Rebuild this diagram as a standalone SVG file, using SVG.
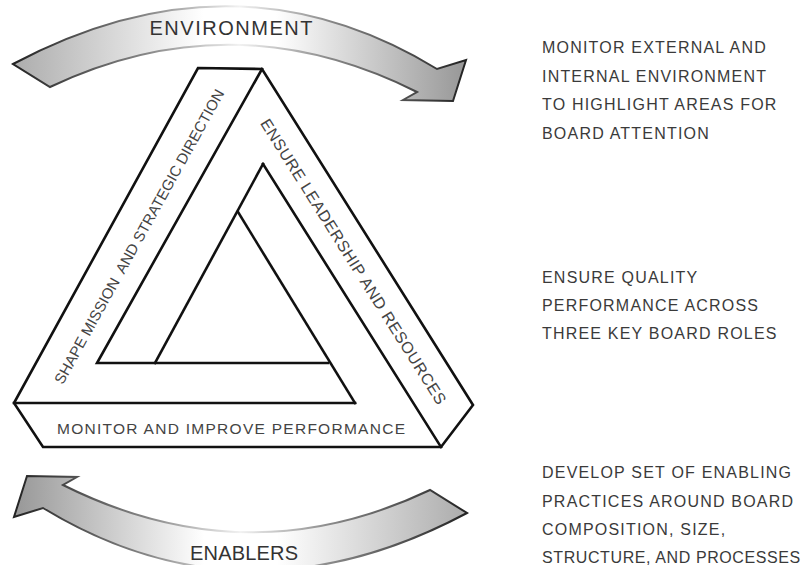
<svg xmlns="http://www.w3.org/2000/svg" width="804" height="565" viewBox="0 0 804 565">
  <defs>
    <linearGradient id="bandFill" x1="0" y1="0" x2="1" y2="0">
      <stop offset="0" stop-color="#acacac"/>
      <stop offset="0.42" stop-color="#ffffff"/>
      <stop offset="0.58" stop-color="#ffffff"/>
      <stop offset="1" stop-color="#979797"/>
    </linearGradient>
    <linearGradient id="bandStroke" x1="0" y1="0" x2="1" y2="0">
      <stop offset="0" stop-color="#222"/>
      <stop offset="0.3" stop-color="#888"/>
      <stop offset="0.5" stop-color="#f2f2f2"/>
      <stop offset="0.7" stop-color="#888"/>
      <stop offset="1" stop-color="#222"/>
    </linearGradient>
    <path id="curvedArrow" d="M 13,64 Q 235,-54 437,69 L 466,60 L 453,101 L 403,100 L 417,92 Q 233,0 50,87 Z"/>
  </defs>
  <style>
    .band { fill: url(#bandFill); stroke: url(#bandStroke); stroke-width: 2; stroke-linejoin: miter; }
    .edge { fill: none; stroke: #111; stroke-width: 2.6; stroke-linejoin: miter; stroke-linecap: square; }
    .label { font-family: "Liberation Sans", Arial, sans-serif; fill: #333; }
    .bar { font-family: "Liberation Sans", Arial, sans-serif; fill: #444; }
    .note { font-family: "Liberation Sans", Arial, sans-serif; fill: #3a3a3a; font-size: 16px; letter-spacing: 1.2px; }
  </style>
  <rect width="804" height="565" fill="#fff"/>

  <g id="connectors">
    <g id="arrow-environment">
      <use href="#curvedArrow" class="band"/>
      <text class="label" x="231" y="35" font-size="20" text-anchor="middle" textLength="163" lengthAdjust="spacing">ENVIRONMENT</text>
    </g>
    <g id="arrow-enablers">
      <use href="#curvedArrow" class="band" transform="rotate(180 240 288.5)"/>
      <text class="label" x="244" y="560" font-size="20" text-anchor="middle" textLength="108" lengthAdjust="spacing">ENABLERS</text>
    </g>
  </g>

  <g id="penrose-triangle">
    <path class="edge" d="M 198,68 L 262,69 L 473,405 L 441,447 L 43,447 L 14,403 Z"/>
    <path class="edge" d="M 14,403 L 355,403"/>
    <path class="edge" d="M 262,69 L 97,363 L 328,363"/>
    <path class="edge" d="M 263,164 L 155,363"/>
    <path class="edge" d="M 263,164 L 441,447"/>
    <path class="edge" d="M 238,212 L 355,403"/>
  </g>

  <g id="bar-shape-mission">
    <text class="bar" xml:space="preserve" font-size="15" text-anchor="middle" textLength="334" lengthAdjust="spacing" transform="translate(139 236.5) rotate(-61)" x="0" y="5.4">SHAPE MISSION  AND STRATEGIC DIRECTION</text>
  </g>
  <g id="bar-ensure-leadership">
    <text class="bar" font-size="16" text-anchor="middle" textLength="334" lengthAdjust="spacing" transform="translate(353.5 261.5) rotate(57.8)" x="0" y="5.7">ENSURE LEADERSHIP AND RESOURCES</text>
  </g>
  <g id="bar-monitor-performance">
    <text class="bar" x="57" y="434" font-size="15.5" textLength="348" lengthAdjust="spacing">MONITOR AND IMPROVE PERFORMANCE</text>
  </g>

  <g id="note-environment">
    <text class="note" x="542" y="53">MONITOR EXTERNAL AND</text>
    <text class="note" x="542" y="81.5">INTERNAL ENVIRONMENT</text>
    <text class="note" x="542" y="110">TO HIGHLIGHT AREAS FOR</text>
    <text class="note" x="542" y="138.5">BOARD ATTENTION</text>
  </g>
  <g id="note-quality">
    <text class="note" x="542" y="283">ENSURE QUALITY</text>
    <text class="note" x="542" y="311">PERFORMANCE ACROSS</text>
    <text class="note" x="542" y="339">THREE KEY BOARD ROLES</text>
  </g>
  <g id="note-enablers">
    <text class="note" x="542" y="478">DEVELOP SET OF ENABLING</text>
    <text class="note" x="542" y="506.5">PRACTICES AROUND BOARD</text>
    <text class="note" x="542" y="535">COMPOSITION, SIZE,</text>
    <text class="note" x="542" y="563" style="letter-spacing:0.6px">STRUCTURE, AND PROCESSES</text>
  </g>
</svg>
